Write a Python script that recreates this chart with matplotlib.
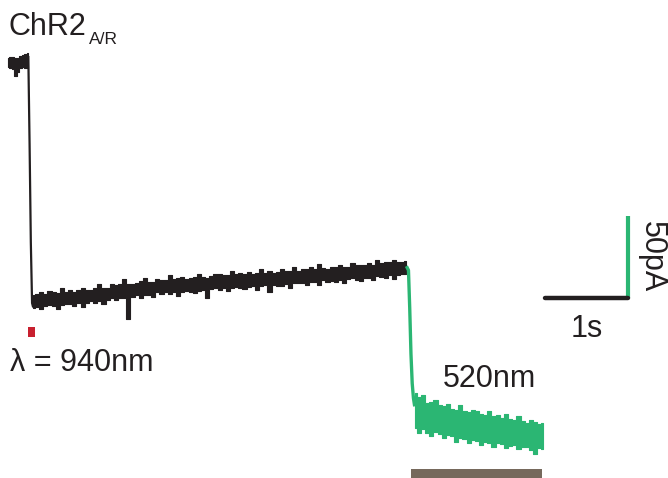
#!/usr/bin/env python3

"""ChR2 A/R photocurrent trace: 940nm two-photon step then 520nm light."""

import numpy as np
import matplotlib.pyplot as plt
from matplotlib.patches import Rectangle

plt.rcParams['font.family'] = ['Liberation Sans', 'DejaVu Sans']

W, H = 668, 478
BLACK = '#231f20'
GREEN = '#2bb673'
RED = '#c8202f'
BAR = '#76695c'

# resting current before the 940nm pulse (s, pA)
blob_t = [0.00, 0.03, 0.06, 0.09, 0.12, 0.15, 0.18, 0.21, 0.245]
blob_hi = [2.5, 3.0, 3.0, 2.5, 2.5, 3.5, 4.0, 5.0, 5.5]
blob_lo = [-3.0, -3.5, -4.0, -8.5, -6.0, -3.5, -3.0, -3.5, -3.5]

# fast drop after the pulse
drop_t = [0.245, 0.26, 0.275, 0.29, 0.30]
drop_i = [3.0, -50.0, -110.0, -147.0, -149.0]

# slowly recovering current, sampled every 50 ms from 0.30 s
black_t0 = 0.30
black_dt = 0.05
black_hi = [
  -142, -141.5, -140.5, -141.5, -139.5, -140.5, -141, -138, -140, -139,
  -140, -139, -137.5, -139, -139, -138, -135.5, -137.5, -137.5, -135.5,
  -136, -135.5, -132.5, -135.5, -135.5, -134.5, -133.5, -132, -134, -134,
  -132.5, -133, -133, -130, -132.5, -132, -131, -132.5, -131.5, -131,
  -129.5, -131, -131.5, -130.5, -129, -129.5, -130, -130, -127.5, -129.5,
  -128.5, -129, -128, -129, -128.5, -126, -128.5, -127.5, -128.5, -128,
  -126, -127.5, -127.5, -125, -127.5, -126, -126.5, -125, -126, -123,
  -125.5, -126, -125, -125, -123.5, -125, -125, -122.5, -124, -124,
  -123.5, -122.5, -123.5, -120.5, -122.5, -122, -122, -120.5, -122, -122,
  -121.5,
]
black_lo = [
  -150, -149.5, -150.5, -149, -148, -149, -150.5, -148, -147.5, -147.5,
  -148.5, -147, -149.5, -147, -146, -147, -146, -147.5, -145, -144,
  -145, -144, -144, -157, -143, -142, -144, -142, -142, -143.5,
  -140.5, -141.5, -140.5, -141.5, -140.5, -142.5, -140, -139.5, -140, -141,
  -139.5, -139, -144, -138.5, -138, -139, -138, -139.5, -137.5, -137,
  -137.5, -138.5, -137, -136.5, -139, -136.5, -136, -140, -136, -136.5,
  -136.5, -135.5, -137.5, -134.5, -135, -135, -136, -134, -134, -136,
  -133, -134, -133.5, -134, -133, -135, -132.5, -132, -133, -133.5,
  -131.5, -131.5, -133, -130.5, -131, -131.5, -130, -132.5, -130, -129,
  -129.5,
]

# 520nm light: fast drop then noisy plateau
gdrop_t = [4.80, 4.825, 4.84, 4.855, 4.87, 4.885, 4.90]
gdrop_i = [-124.5, -127.0, -150.0, -178.0, -196.0, -205.0, -210.0]

green_t0 = 4.90
green_dt = 0.05
green_hi = [
  -202, -204.5, -203, -208, -207.5, -206, -209, -210, -208.5, -211.5,
  -212, -209, -212.5, -213.5, -212, -213, -214.5, -215, -212.5, -216,
  -215.5, -217, -214.5, -217.5, -218.5, -216, -219, -220, -218.5, -219.5,
  -221, -220,
]
green_lo = [
  -223, -226.5, -224, -226, -228, -225.5, -227, -229.5, -227.5, -228,
  -231.5, -229, -230, -232.5, -230.5, -231, -233.5, -231.5, -232.5, -235,
  -232.5, -233, -235.5, -234, -233.5, -236, -234.5, -235, -236.5, -239,
  -235.5, -236,
]

# stimuli (start s, duration s)
pulse_940 = (0.241, 0.084)
light_520 = (4.855, 1.58)

# scale bar: 1 s, 50 pA
scale_s = 1.0
scale_pa = 50.0


def px(x, y):
  """Pixel position to figure fraction."""
  return x / W, 1 - y / H


def main():
  fig = plt.figure(figsize=(W / 100, H / 100), dpi=100)
  ax = fig.add_axes([0, 0, 1, 1])
  ax.set_xlim(-8 / 83, 660 / 83)
  ax.set_ylim(-416 / 1.64, 62 / 1.64)
  ax.axis('off')

  ax.fill_between(blob_t, blob_lo, blob_hi, step='mid', color=BLACK, lw=0.8)
  ax.plot(drop_t, drop_i, color=BLACK, lw=1.6)

  t_black = np.round(black_t0 + black_dt * np.arange(len(black_hi)), 3)
  ax.fill_between(t_black, black_lo, black_hi, step='mid', color=BLACK, lw=0.8)

  ax.plot(gdrop_t, gdrop_i, color=GREEN, lw=2.4, solid_capstyle='butt')
  t_green = np.round(green_t0 + green_dt * np.arange(len(green_hi)), 3)
  ax.fill_between(t_green, green_lo, green_hi, step='mid', color=GREEN, lw=0.8)

  # stimulus markers
  ax.add_patch(Rectangle((pulse_940[0], -167.7), pulse_940[1], 6.1,
                         color=RED, lw=0))
  ax.add_patch(Rectangle((light_520[0], -254), light_520[1], 5.8,
                         color=BAR, lw=0))

  # scale bar
  sx, sy = 6.47, -143.9
  ax.plot([sx + scale_s, sx + scale_s], [sy, sy + scale_pa], color=GREEN,
          lw=3.0, solid_capstyle='butt')
  ax.plot([sx, sx + scale_s], [sy, sy], color=BLACK, lw=3.2,
          solid_capstyle='round')

  fs = 22
  fig.text(*px(9, 35), 'ChR2', fontsize=fs, color=BLACK, va='baseline')
  fig.text(*px(89, 44), 'A/R', fontsize=12.5, color=BLACK, va='baseline')
  fig.text(*px(10, 371), '\u03bb = 940nm', fontsize=fs, color=BLACK,
           va='baseline')
  fig.text(*px(443, 387), '520nm', fontsize=fs, color=BLACK, va='baseline')
  fig.text(*px(587, 337), '1s', fontsize=fs, color=BLACK, va='baseline',
           ha='center')
  fig.text(*px(652, 257), '50pA', fontsize=fs, color=BLACK, rotation=270,
           ha='center', va='center')

  fig.savefig('out.png', dpi=100)


if __name__ == "__main__":
  main()
